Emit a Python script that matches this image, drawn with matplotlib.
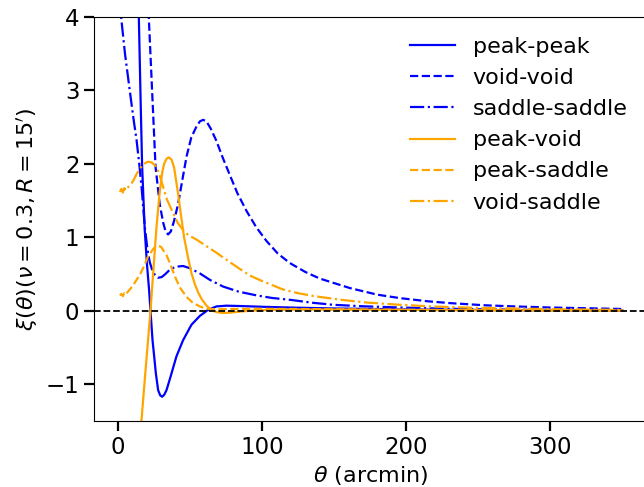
import numpy as np
import matplotlib
matplotlib.use("Agg")
from matplotlib import pyplot as plt

# values (theta in arcmin)
pp_theta = [1, 4, 8, 11, 13, 14.6, 15.8, 16.9, 18.7, 20.3, 21.7, 22.7, 24.1, 25.3, 26.4, 28, 29.4,
            30.8, 32.3, 33.8, 35.5, 37.3, 40.7, 45.3, 51.1, 56.9, 62.7, 68.5, 75.4, 85, 100, 125,
            150, 200, 250, 300, 350]
pp_xi = [40, 25, 12, 7.2, 5.2, 4.0, 2.9, 1.96, 1.1, 0.62, 0.29, 0.0, -0.40, -0.63, -0.85, -1.08, -1.15,
         -1.17, -1.14, -1.08, -0.97, -0.85, -0.62, -0.40, -0.19, -0.07, 0.014, 0.06, 0.07, 0.065, 0.055, 0.042,
         0.032, 0.019, 0.011, 0.007, 0.004]

vv_theta = [1, 5, 10, 14, 17, 19.5, 21.5, 23.8, 26.2, 29.1, 31.5, 33.2, 34.9, 36.8, 39, 41.8, 44.5,
            47.7, 51, 54.6, 57, 59.2, 61.5, 64.5, 68.5, 72.5, 77.7, 83, 89.3, 96, 103.2, 111, 119.4,
            130, 140, 161, 180, 195.7, 215, 230.4, 255, 276.7, 300, 322.9, 350]
vv_xi = [60, 35, 18, 10, 6.8, 5.0, 4.0, 3.0, 1.96, 1.45, 1.2, 1.08, 1.04, 1.08, 1.22, 1.45, 1.75,
         2.10, 2.36, 2.51, 2.58, 2.60, 2.58, 2.48, 2.31, 2.10, 1.85, 1.60, 1.36, 1.14, 0.95, 0.78, 0.65,
         0.53, 0.44, 0.31, 0.22, 0.173, 0.13, 0.105, 0.075, 0.059, 0.045, 0.036, 0.025]

ss_theta = [1, 2.3, 5, 8.3, 11, 13, 15, 16.6, 18.7, 20.5, 22.2, 24, 26, 28, 30.5, 33, 36.1, 40,
            45.3, 50, 56.9, 64, 73.1, 84, 96.3, 107, 119.4, 135, 149.4, 170, 195.7, 225, 253, 300, 350]
ss_xi = [4.5, 4.0, 3.5, 3.0, 2.6, 2.33, 1.98, 1.66, 1.15, 0.85, 0.66, 0.55, 0.48, 0.45, 0.46, 0.5, 0.56, 0.6,
         0.61, 0.58, 0.51, 0.42, 0.33, 0.26, 0.21, 0.175, 0.15, 0.11, 0.082, 0.062, 0.045, 0.03, 0.02, 0.011, 0.006]

pv_theta = [1, 5, 9, 12.5, 16.4, 19.5, 22.7, 24.5, 26.9, 29.1, 30.8, 32.1, 33.8, 35.4, 37.2, 39.1,
            41.8, 44, 46, 48.8, 51, 53.5, 56, 58.5, 61.6, 65, 69, 73.1, 78, 85, 95, 110, 130, 160,
            200, 250, 300, 350]
pv_xi = [-5.8, -4.8, -3.8, -2.75, -1.5, -0.75, 0.0, 0.5, 1.15, 1.62, 1.88, 2.0, 2.07, 2.09, 2.06, 1.95,
         1.6, 1.28, 1.0, 0.72, 0.52, 0.36, 0.24, 0.15, 0.07, 0.01, -0.02, -0.03, -0.025, -0.01, 0.005, 0.015, 0.018, 0.016,
         0.012, 0.008, 0.005, 0.003]

ps_theta = [1.4, 2.5, 3.5, 4.5, 5.5, 7, 8.3, 10, 12, 15.3, 18, 21, 24.5, 26.5, 28, 30, 33.8, 36.5,
            39.6, 43, 47.7, 52, 56.9, 60.4, 63.8, 70, 80, 100, 130, 170, 220, 280, 350]
ps_xi = [0.21, 0.23, 0.20, 0.24, 0.22, 0.26, 0.29, 0.33, 0.39, 0.49, 0.6, 0.74, 0.84, 0.88, 0.885, 0.87, 0.76, 0.63,
         0.47, 0.32, 0.19, 0.11, 0.06, 0.035, 0.025, 0.022, 0.025, 0.027, 0.024, 0.018, 0.012, 0.007, 0.004]

vs_theta = [1.4, 2.5, 3.5, 4.5, 5.5, 7, 9, 11, 13, 15.5, 18, 21, 23.5, 26.9, 29, 31.4, 34, 38.4, 41.5,
            45.3, 49, 54.6, 60, 68.5, 75, 82.4, 91.6, 100.8, 114.7, 125, 137.9, 155, 172.6, 195, 218.8,
            245, 276.7, 310, 350]
vs_xi = [1.62, 1.66, 1.61, 1.67, 1.64, 1.68, 1.72, 1.78, 1.86, 1.94, 2.0, 2.03, 2.02, 1.96, 1.85, 1.69, 1.52, 1.33, 1.2,
         1.1, 1.03, 0.97, 0.9, 0.79, 0.70, 0.60, 0.48, 0.40, 0.29, 0.24, 0.195, 0.15, 0.113, 0.083, 0.059,
         0.042, 0.03, 0.02, 0.013]

plt.rcParams['font.size'] = 16
plt.rcParams['mathtext.fontset'] = 'dejavusans'

fig = plt.figure(figsize=(6.44, 4.87), dpi=100)
ax = fig.add_axes([94/644, 66/487, 553.5/644, 404/487])

lw = 1.6
ax.plot(pp_theta, pp_xi, color='blue', ls='-', lw=lw, label='peak-peak')
ax.plot(vv_theta, vv_xi, color='blue', ls='--', lw=lw, label='void-void')
ax.plot(ss_theta, ss_xi, color='blue', ls='-.', lw=lw, label='saddle-saddle')
ax.plot(pv_theta, pv_xi, color='orange', ls='-', lw=lw, label='peak-void')
ax.plot(ps_theta, ps_xi, color='orange', ls='--', lw=lw, label='peak-saddle')
ax.plot(vs_theta, vs_xi, color='orange', ls='-.', lw=lw, label='void-saddle')
ax.axhline(0, color='black', ls='--', lw=1.3)

ax.set_xlim(-16.5, 367.5)
ax.set_ylim(-1.5, 4)
ax.set_yticks([-1, 0, 1, 2, 3, 4])
ax.set_xticks([0, 100, 200, 300])
ax.tick_params(axis='both', which='major', labelsize=16.5, length=7, width=1.6)
ax.set_xlabel(r'$\theta$ (arcmin)', fontsize=16)
ax.set_ylabel(r"$\xi(\theta)(\nu = 0.3, R = 15')$", fontsize=16)
ax.legend(loc='upper right', frameon=False, fontsize=16)

fig.savefig('out.png', dpi=100)
